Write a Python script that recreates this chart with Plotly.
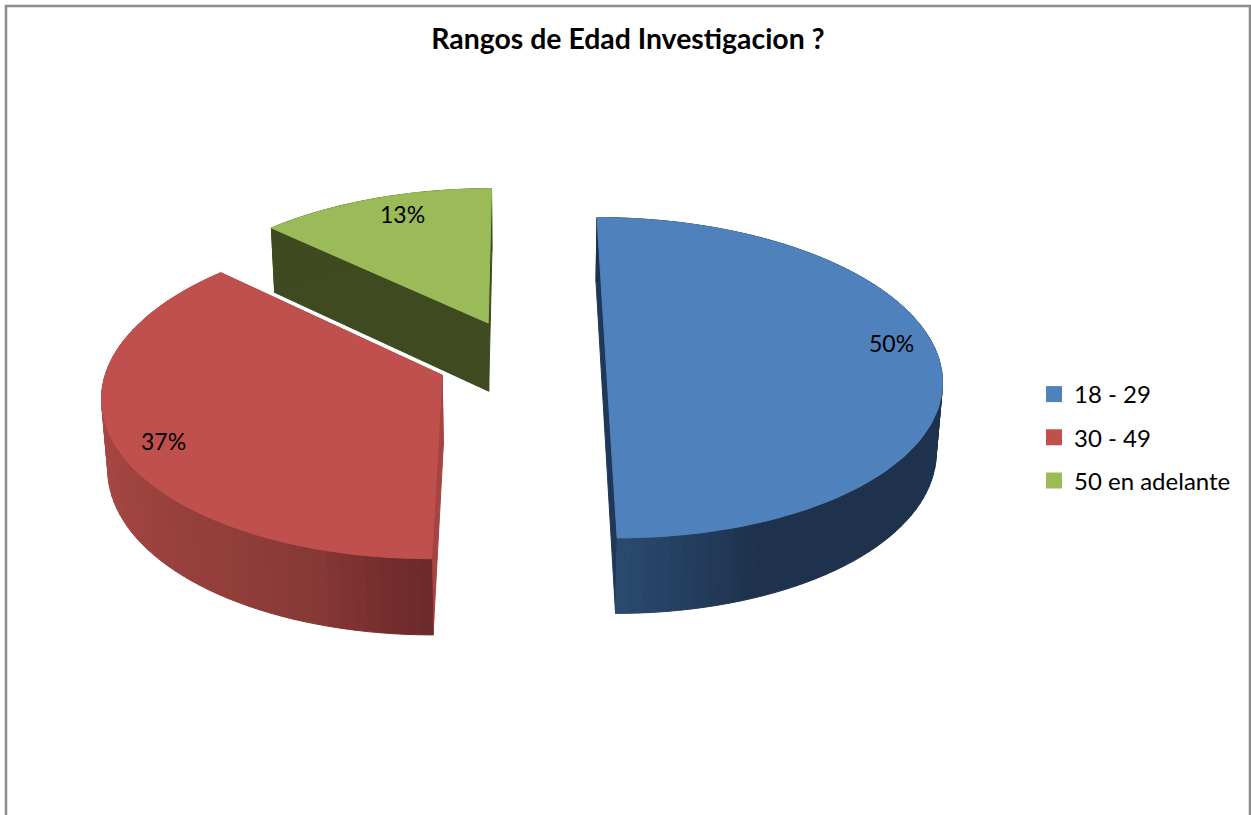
import math
import plotly.graph_objects as go

# Age ranges and their shares
categories = ["18 - 29", "30 - 49", "50 en adelante"]
values = [50, 37, 13]
top_colors = ["#4f81bd", "#c0504d", "#9bbb59"]
cut_colors = ["#1f3857", "#a54441", "#3f4a20"]

# Rim shading: (angle in degrees clockwise from the back, colour)
rim_stops = [
    [(90, (30, 50, 77)), (158, (30, 50, 77)), (180, (43, 74, 111))],
    [(180, (108, 42, 42)), (185, (114, 44, 44)), (197, (133, 56, 53)),
     (210, (144, 61, 58)), (246, (163, 69, 66)), (275, (172, 74, 71))],
    [(313, (63, 74, 32)), (360, (63, 74, 32))],
]
label_pos = [(891, 343), (163, 441), (402, 214)]

# Camera model of the tilted pie
VX, VY = 521.0, 359.0
RX, RY = 333.0, 158.0
THICK = 70.5
PERSP_Y, PERSP_Z = 0.117, 0.015
EXPLODE = 0.255


def project(x, y, z):
    """Map pie coordinates to the page; z=1 is the top face and z=0 the base."""
    s = 1.0 / (1.0 + PERSP_Y * y + PERSP_Z * (1.0 - z))
    return VX + RX * x * s, VY + (-RY * y + THICK * (1.0 - z)) * s


def rim(cx, cy, a, z):
    rad = math.radians(a)
    return project(cx + math.sin(rad), cy + math.cos(rad), z)


def lerp_colour(stops, a):
    if a <= stops[0][0]:
        c = stops[0][1]
    elif a >= stops[-1][0]:
        c = stops[-1][1]
    else:
        c = stops[-1][1]
        for (a0, c0), (a1, c1) in zip(stops, stops[1:]):
            if a0 <= a <= a1:
                t = (a - a0) / (a1 - a0)
                c = tuple(c0[i] + (c1[i] - c0[i]) * t for i in range(3))
                break
    return "rgb(%d,%d,%d)" % tuple(round(v) for v in c)


def polygon(points, colour):
    xs = [p[0] for p in points] + [points[0][0]]
    ys = [p[1] for p in points] + [points[0][1]]
    return go.Scatter(
        x=xs, y=ys, mode="lines", fill="toself", fillcolor=colour,
        line=dict(color=colour, width=1), hoverinfo="skip", showlegend=False,
    )


total = sum(values)
spans = []
start = 0.0
for v in values:
    end = start + 360.0 * v / total
    spans.append((start, end))
    start = end

fig = go.Figure()

# Painted from the farthest slice to the nearest one
for i in (2, 1, 0):
    a0, a1 = spans[i]
    mid = math.radians((a0 + a1) / 2)
    cx, cy = EXPLODE * math.sin(mid), EXPLODE * math.cos(mid)

    for a in (a0, a1):
        fig.add_trace(polygon(
            [project(cx, cy, 1), rim(cx, cy, a, 1), rim(cx, cy, a, 0), project(cx, cy, 0)],
            cut_colors[i],
        ))

    steps = max(8, int((a1 - a0) / 2))
    angles = [a0 + (a1 - a0) * k / steps for k in range(steps + 1)]
    ordered = sorted(zip(angles, angles[1:]), key=lambda p: math.cos(math.radians(p[0])), reverse=True)
    for b0, b1 in ordered:
        fig.add_trace(polygon(
            [rim(cx, cy, b0, 1), rim(cx, cy, b1, 1), rim(cx, cy, b1, 0), rim(cx, cy, b0, 0)],
            lerp_colour(rim_stops[i], (b0 + b1) / 2),
        ))

    fine = [a0 + (a1 - a0) * k / 120 for k in range(121)]
    fig.add_trace(polygon(
        [project(cx, cy, 1)] + [rim(cx, cy, a, 1) for a in fine],
        top_colors[i],
    ))

# Legend entries
for name, colour in zip(categories, top_colors):
    fig.add_trace(go.Scatter(
        x=[None], y=[None], mode="markers", name=name, legendgroup=name,
        marker=dict(symbol="square", size=16, color=colour), hoverinfo="skip",
    ))

for v, (lx, ly) in zip(values, label_pos):
    fig.add_annotation(
        x=lx, y=ly, text=f"{round(100 * v / total)}%", showarrow=False,
        font=dict(family="Lato", size=23, color="#000000"),
    )

# Chart frame, open at the bottom where the page cuts it off
fig.add_shape(
    type="path", path="M 6 815 L 6 6 L 1250 6 L 1250 815",
    line=dict(color="#8c8c8c", width=2.5), layer="below",
)

fig.update_layout(
    width=1251, height=815, margin=dict(l=0, r=0, t=0, b=0),
    paper_bgcolor="#ffffff", plot_bgcolor="#ffffff",
    title=dict(
        text="<b>Rangos de Edad Investigacion ?</b>", x=628 / 1251, xanchor="center",
        y=1 - 39 / 815, yanchor="middle",
        font=dict(family="Lato", size=28.4, color="#000000"),
    ),
    xaxis=dict(range=[0, 1251], visible=False, fixedrange=True),
    yaxis=dict(range=[815, 0], visible=False, fixedrange=True),
    legend=dict(
        x=1034 / 1251, xanchor="left", y=1 - 372 / 815, yanchor="top",
        font=dict(family="Lato", size=24, color="#000000"),
        tracegroupgap=9, itemwidth=30, bgcolor="rgba(0,0,0,0)",
    ),
)

fig.write_html("out.html")
